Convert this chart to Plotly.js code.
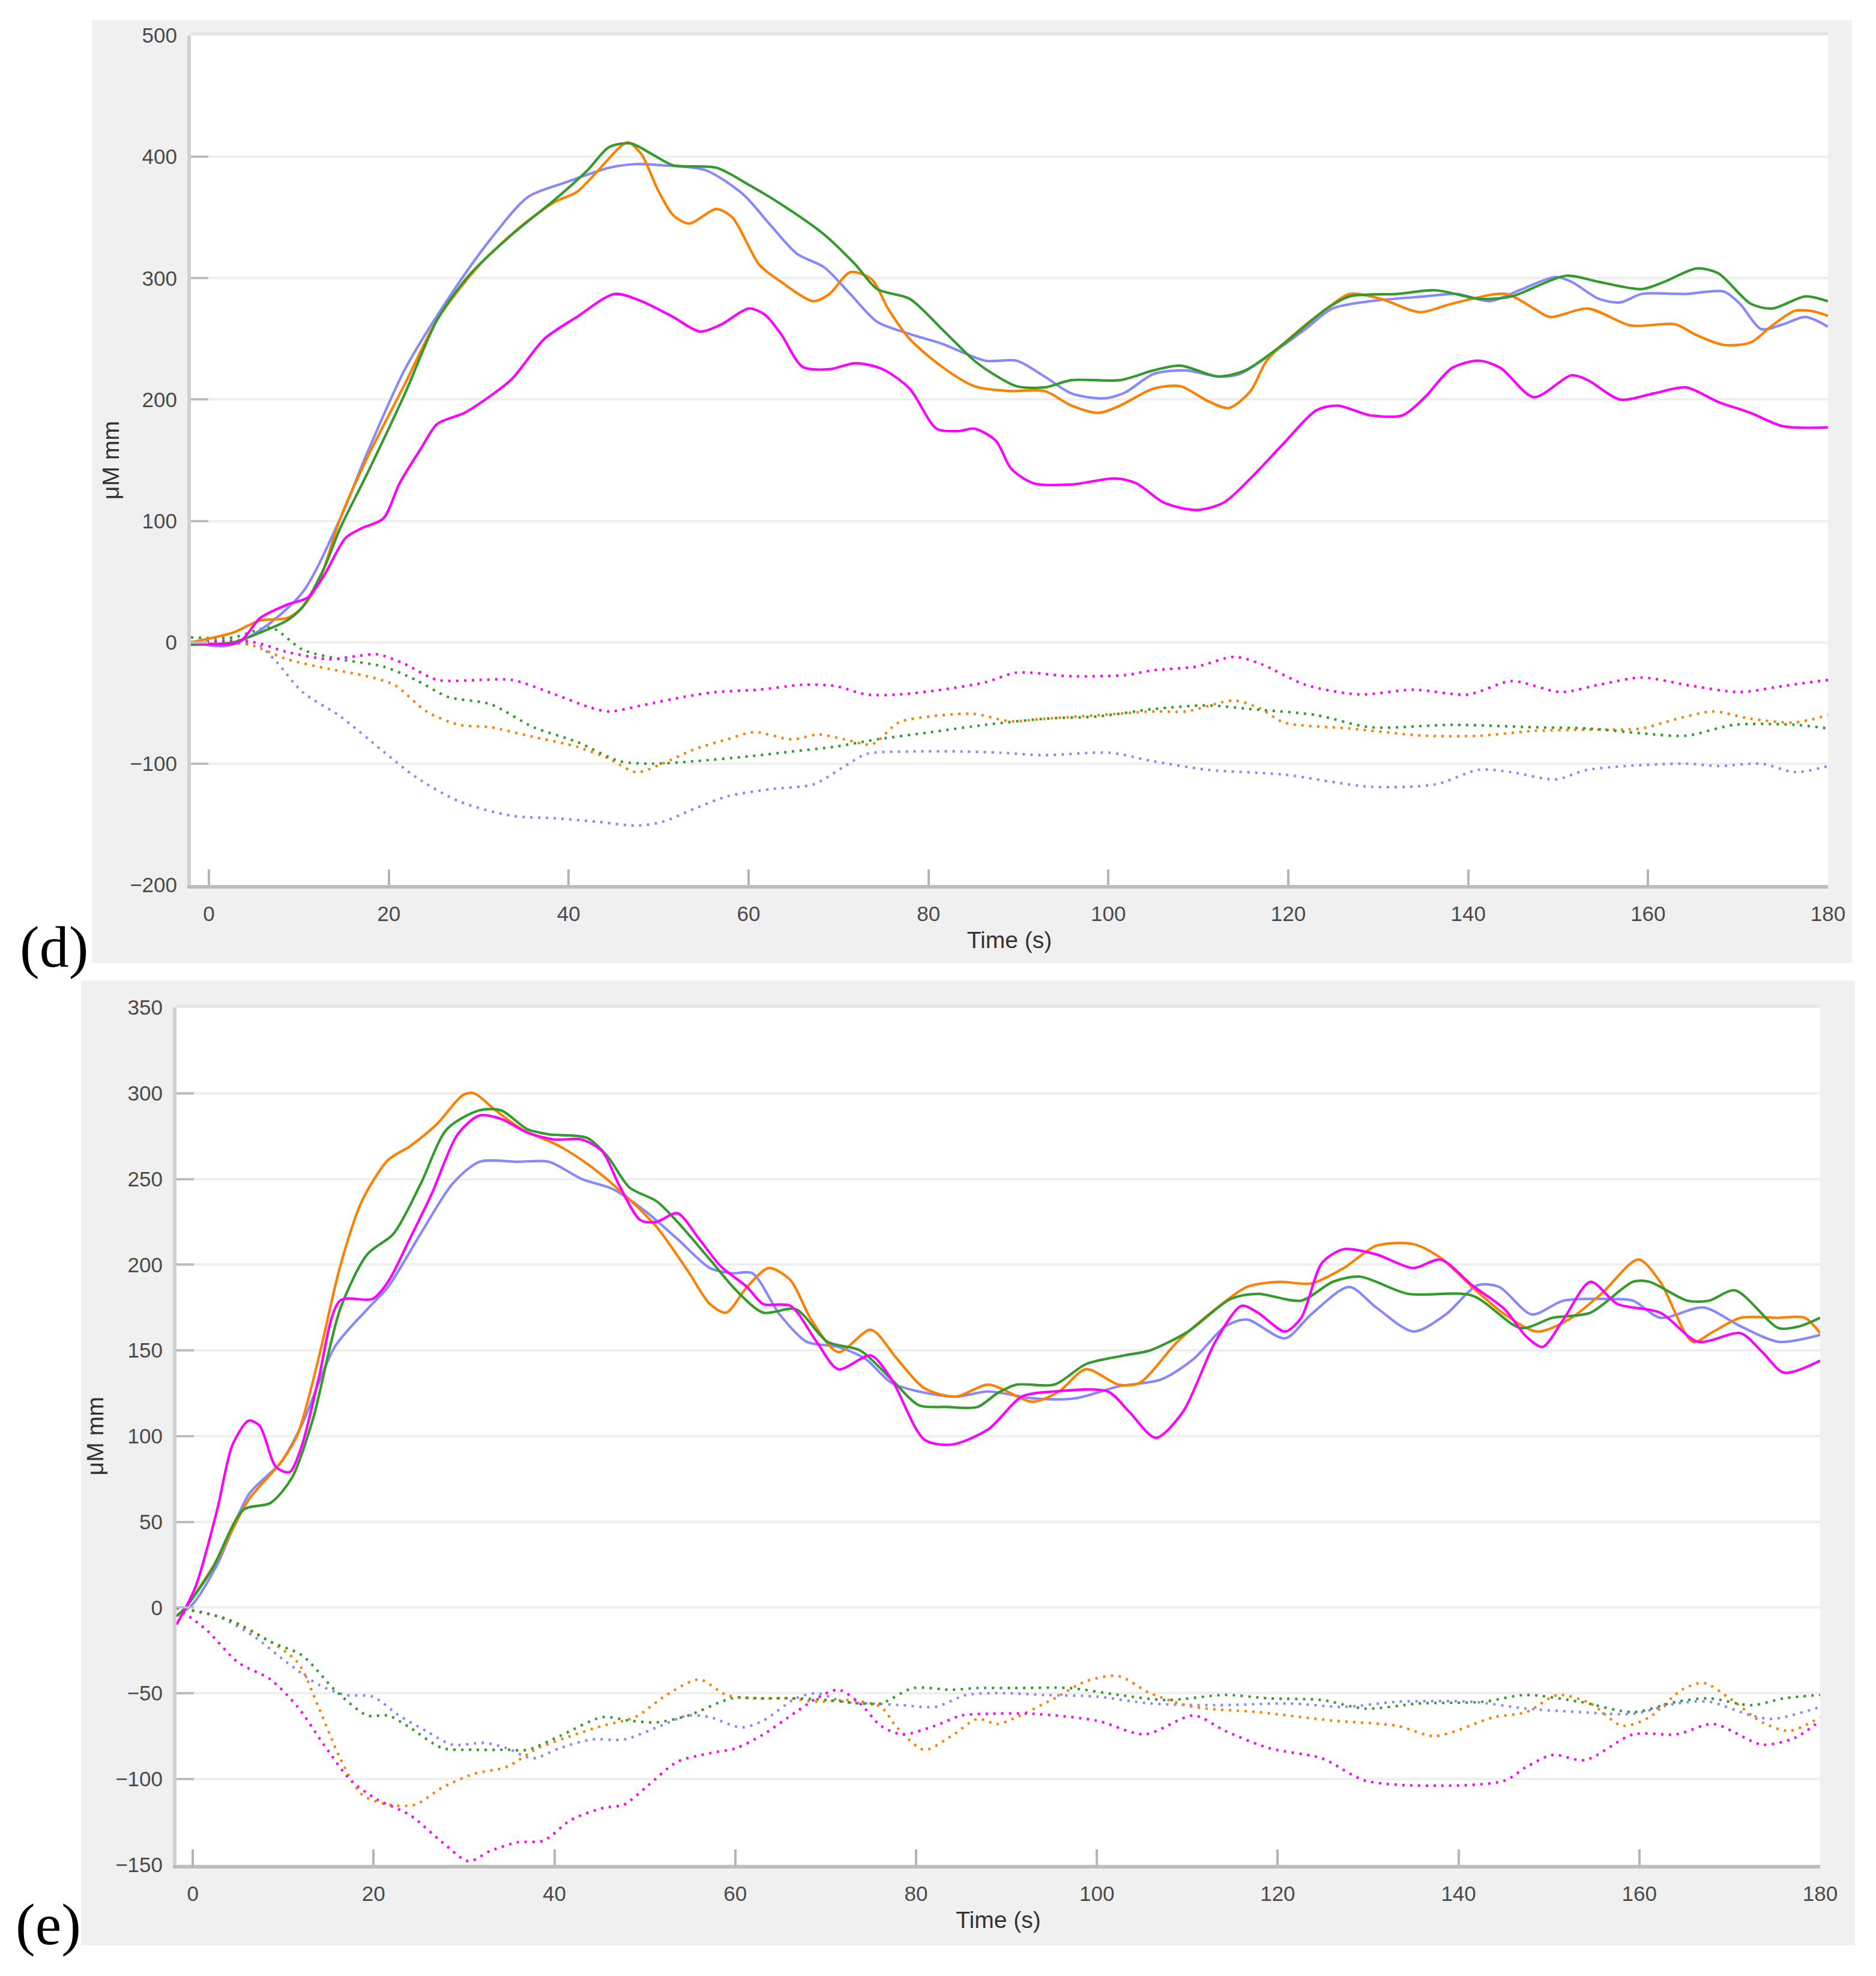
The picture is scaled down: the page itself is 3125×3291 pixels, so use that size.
<!DOCTYPE html>
<html><head><meta charset="utf-8">
<script src="https://cdn.plot.ly/plotly-3.0.1.min.js"></script>
<style>html,body{margin:0;padding:0;background:#fff;}#chart{width:3125px;height:3291px;}</style>
</head><body><div id="chart"></div>
<script>
const W = 3125, H = 3291;

// ---- tick values ----
const xTicks = [0, 20, 40, 60, 80, 100, 120, 140, 160, 180];
const dYTicks = [-200, -100, 0, 100, 200, 300, 400, 500];
const eYTicks = [-150, -100, -50, 0, 50, 100, 150, 200, 250, 300, 350];
const xTitle = 'Time (s)';
const yTitle = 'μM mm';
const panelLabels = ['(d)', '(e)'];

const colors = { blue: '#8787ff', orange: '#ff8000', green: '#339a2b', magenta: '#ff00ff' };

// ---- panel (d): [time, value] ----
const dBlueSolid = [[-2,0],[2,-3],[5.7,10],[10.4,41],[14.6,102],[17.6,156],[21.8,225],[26.6,283],[31.3,332],[35.5,367],[39.7,379],[44.5,391],[47.5,394],[50.4,393],[55.2,389],[59.4,369],[62.4,344],[65.4,320],[68.4,309],[71.3,287],[74.3,264],[77.9,254],[81.5,246],[86.3,232],[89.8,232],[92.9,219],[95.9,205],[99.5,201],[101.9,206],[105,221],[108.6,224],[112.2,219],[114.6,221],[118.2,238],[121.9,258],[124.9,275],[129.1,281],[135.2,285],[138.8,287],[142.4,281],[146,291],[149.7,301],[151.5,297],[154.5,283],[156.9,280],[159.3,287],[164.2,287],[168.4,289],[170.2,279],[172.6,258],[175,262],[177.5,268],[180,260]];
const dGreenSolid = [[-2,-2],[2.7,0],[5.7,8],[8.7,18],[10.4,29],[12.8,61],[14.6,94],[17.6,139],[21.8,205],[25.4,266],[29,303],[33.7,336],[38.5,365],[42.1,389],[44.5,408],[46.9,411],[49.3,402],[51.6,393],[56.4,391],[60,377],[63.6,361],[68.4,336],[71.9,311],[74.3,291],[77.9,283],[81.5,258],[85.1,232],[87,222],[89.8,211],[92.9,210],[95.9,216],[101.3,216],[105,224],[108,228],[112.2,219],[115.2,224],[119.5,246],[124.3,275],[126.8,285],[132.1,287],[136.4,290],[141.2,283],[144.8,285],[150.9,302],[154.5,297],[159.3,291],[161.8,297],[165.4,308],[167.8,304],[171.4,279],[173.8,275],[177.5,285],[180,281]];
const dOrangeSolid = [[-2,0],[2.7,8],[5.7,18],[8.7,20],[10.4,29],[12.2,49],[14.6,102],[17.6,152],[21.8,213],[25.4,266],[30.1,311],[34.9,344],[38.5,363],[40.9,371],[43.3,389],[45.7,408],[46.6,412],[48.1,402],[49.9,373],[51.6,352],[53.4,345],[56.4,357],[58.2,350],[61.2,311],[63.6,297],[67.2,281],[69,287],[71.3,305],[73.7,299],[75.5,275],[77.9,250],[81.5,227],[85.1,211],[89,207],[92.9,207],[95.9,195],[98.9,189],[101.3,195],[105,209],[108,211],[111,199],[113.4,193],[115.8,207],[117.6,232],[120.7,254],[124.3,275],[126.8,287],[130.3,283],[134.6,272],[138.2,279],[144.2,287],[147.3,275],[149.1,268],[153.3,275],[158.1,261],[163,262],[165.4,253],[168.4,245],[171.4,247],[173.8,261],[176.3,273],[178.1,273],[180,269]];
const dMagentaSolid = [[-2,0],[3.3,0],[5.7,20],[8.7,31],[11,37],[12.8,55],[15.2,86],[17,94],[19.4,102],[21.2,131],[23.6,160],[25.4,180],[28.4,189],[31.3,203],[33.7,217],[37.3,250],[40.9,268],[45.1,287],[48.1,281],[51.6,268],[54.6,256],[57,262],[60,275],[61.8,270],[63.6,254],[66,227],[69,225],[71.9,230],[74.9,225],[77.9,209],[80.9,176],[83.3,174],[85.1,176],[87.5,166],[89.2,143],[91.7,131],[95.9,130],[100.7,135],[103.1,131],[106.2,115],[109.8,109],[112.8,115],[115.8,135],[119.5,164],[123.1,191],[125.5,195],[129.1,187],[132.7,187],[135.2,202],[138.2,226],[141.2,232],[143.6,226],[147.3,202],[151.5,220],[153.3,216],[156.9,200],[160.6,205],[164.2,210],[167.8,198],[171.4,189],[175,178],[180,177]];
const dBlueDot = [[-2,0],[5,0],[7.5,-16],[10.4,-41],[14.6,-61],[19.4,-90],[23,-111],[27.8,-131],[33.7,-143],[38.5,-145],[43.3,-148],[47.5,-151],[50.4,-148],[54,-137],[57.6,-127],[62.4,-121],[67.2,-117],[70.7,-102],[73.1,-92],[77.9,-90],[83.9,-90],[88,-91],[92.9,-93],[100.1,-91],[105,-98],[111,-105],[119.5,-109],[129.1,-119],[136.4,-117],[141.2,-105],[144.8,-107],[149.7,-113],[153.3,-105],[164.2,-100],[167.8,-102],[172.6,-100],[176.3,-107],[180,-102]];
const dGreenDot = [[-2,4],[2.7,4],[6.9,12],[10.4,-6],[14.6,-14],[19.4,-20],[23,-31],[26.6,-45],[31.3,-51],[36.1,-70],[40.9,-82],[45.7,-98],[49.3,-100],[54,-98],[60,-94],[64.8,-90],[69.6,-86],[74.3,-80],[80.3,-74],[86.3,-68],[92.9,-63],[98.9,-61],[105,-55],[111,-52],[115.8,-55],[123.1,-60],[129.1,-70],[138.2,-68],[147.3,-70],[153.3,-71],[159.3,-75],[164.2,-77],[169.6,-68],[176.3,-68],[180,-71]];
const dOrangeDot = [[-2,0],[4.5,-2],[8.7,-14],[13.4,-22],[17,-27],[20.6,-35],[24.2,-57],[27.8,-68],[31.3,-70],[36.1,-78],[40.9,-86],[44.5,-96],[47.5,-107],[50.4,-100],[54,-88],[57.6,-80],[60.6,-74],[64.8,-80],[67.8,-76],[70.7,-80],[73.7,-84],[76.7,-66],[80.3,-61],[85.1,-59],[89,-65],[92.9,-63],[98.9,-60],[105,-57],[108.6,-57],[114,-48],[117,-55],[119.5,-66],[126.8,-71],[135.2,-77],[141.2,-77],[147.3,-73],[153.3,-72],[159.3,-71],[161.8,-66],[167.2,-57],[171.4,-63],[176.3,-66],[180,-60]];
const dMagentaDot = [[-2,0],[5,0],[8.7,-8],[13.4,-14],[15.8,-12],[18.8,-10],[21.8,-18],[25.4,-31],[30.1,-31],[33.7,-31],[38.5,-43],[42.1,-53],[44.5,-57],[48.1,-52],[52.8,-45],[56.4,-41],[61.2,-39],[66,-35],[69.6,-36],[73.1,-43],[76.7,-43],[81.5,-39],[86.3,-33],[89.8,-25],[95.9,-28],[101.9,-27],[105,-23],[109.8,-20],[114,-12],[117,-18],[121.9,-35],[127.9,-43],[133.9,-39],[140,-43],[144.8,-32],[150.3,-41],[154.5,-35],[159.3,-29],[164.2,-35],[170.2,-41],[175,-36],[180,-31]];

// ---- panel (e): [time, value] ----
const eBlueSolid = [[-1.8,-5],[0,2],[2.7,25],[6.2,66],[9.8,85],[12.1,107],[15.7,152],[19.3,174],[21.6,187],[25.2,218],[28.7,247],[31.7,260],[35.9,260],[39.4,260],[43,250],[46.5,244],[50.1,231],[53.6,215],[57.2,198],[59.6,195],[61.9,195],[64.9,171],[67.9,155],[71.4,152],[74.4,145],[77.3,131],[80.3,126],[84.4,123],[88,126],[92.9,122],[97.6,122],[102.4,129],[107.1,133],[110.7,145],[114.2,164],[116.6,168],[120.8,157],[123.7,171],[127.9,187],[130.9,175],[135,161],[138.6,171],[142.1,188],[144.5,187],[148.1,171],[151.6,179],[156.4,180],[159.3,179],[162.3,169],[167.1,175],[171.2,164],[175.4,155],[180,159]];
const eGreenSolid = [[-1.8,-5],[-0.8,0],[2.1,22],[5.6,57],[8.6,61],[11,76],[13.3,110],[16.3,174],[19.3,206],[22.2,218],[25.2,247],[28.1,279],[31.7,290],[34.1,290],[37,279],[39.4,276],[43.6,274],[45.9,263],[48.3,245],[51.3,237],[53.6,225],[57.2,203],[60.1,185],[63.1,172],[66.7,174],[70.2,155],[73.8,150],[77.3,133],[80.3,118],[83.3,117],[86.8,117],[89,125],[91.1,130],[95.3,130],[98.8,142],[103,147],[105.9,150],[110.1,161],[114.8,180],[117.8,183],[122.6,179],[126.1,190],[129.1,193],[134.4,183],[141.5,182],[146.9,163],[150.4,169],[154.6,172],[159.3,190],[161.1,190],[165.3,179],[167.7,179],[170.6,185],[175.4,163],[177.7,164],[180,169]];
const eOrangeSolid = [[-1.8,-5],[-0.8,0],[2.7,28],[6.2,63],[9.8,85],[11.6,101],[13.9,145],[16.3,199],[18.7,237],[21.6,261],[24,269],[27,282],[29.9,299],[31.1,300],[33.5,290],[36.4,279],[40.6,269],[44.1,257],[47.7,241],[51.3,222],[54.8,196],[57.2,177],[59,172],[61.3,187],[63.7,198],[66.1,191],[68.4,168],[71.4,149],[75,162],[77.9,145],[80.9,128],[84.4,123],[88,130],[92.9,120],[95.8,126],[98.8,139],[102.4,130],[104.7,131],[108.9,155],[113.1,174],[116.6,187],[120.2,190],[123.7,189],[127.3,198],[130.9,211],[135,212],[138,204],[141.5,187],[145.1,171],[148.7,161],[152.2,168],[155.8,183],[159.9,203],[162.3,190],[165.9,155],[168.2,161],[171.2,169],[175.4,169],[178.3,169],[180,160]];
const eMagentaSolid = [[-1.8,-10],[0.3,12],[2.7,57],[4.4,95],[6.2,109],[7.4,106],[9.2,82],[10.7,79],[12.1,95],[13.9,133],[16.3,179],[19.9,180],[21.6,190],[24,215],[26.4,241],[29.3,276],[31.7,287],[34.1,285],[37,277],[40,273],[43,273],[45.3,266],[47.1,247],[49.5,226],[51.3,225],[53.6,230],[56,215],[58.4,199],[61.3,187],[63.1,177],[66.1,176],[69,155],[71.4,139],[75,147],[77.3,133],[80.9,98],[83.9,95],[88,104],[91.7,123],[95.3,126],[101.2,126],[103.6,114],[106.5,99],[109.5,114],[113.1,155],[116,176],[117.8,172],[120.8,161],[122.6,169],[124.9,201],[127.3,209],[130.9,206],[135,198],[138,203],[141.5,188],[145.1,174],[147.5,158],[149.3,152],[151.6,168],[154.6,190],[157.6,177],[162.3,172],[166.5,155],[171.2,160],[173.6,149],[176,137],[180,144]];
const eBlueDot = [[-1.8,0],[2.7,-5],[6.8,-17],[10.4,-32],[13.9,-45],[16.9,-51],[19.9,-52],[22.8,-63],[25.8,-72],[28.7,-80],[32.3,-79],[34.7,-82],[37.6,-88],[40.6,-82],[44.1,-77],[47.7,-77],[51.3,-70],[54.8,-63],[57.2,-64],[60.7,-70],[63.1,-66],[66.7,-53],[69,-50],[72,-55],[75,-56],[78.5,-57],[82.1,-58],[85.6,-51],[90,-50],[94.1,-51],[100,-52],[105.9,-56],[113.1,-57],[121.4,-56],[127.3,-58],[133.2,-55],[141.5,-55],[147.5,-59],[153.4,-61],[159.3,-62],[164.1,-56],[167.7,-55],[172.4,-63],[174.8,-65],[180,-58]];
const eGreenDot = [[-1.8,0],[3.9,-7],[8.6,-20],[12.1,-28],[15.7,-48],[19.3,-63],[21.6,-63],[24,-70],[27.6,-82],[31.1,-83],[34.7,-83],[37,-83],[40.6,-75],[45.3,-64],[48.3,-66],[51.3,-67],[54.8,-63],[59.6,-53],[63.1,-53],[66.7,-53],[70.2,-54],[73.8,-56],[76.1,-56],[79.7,-47],[83.9,-48],[86.8,-47],[90.8,-47],[97,-47],[102.4,-51],[107.7,-54],[114.2,-51],[119,-53],[124.9,-54],[129.7,-59],[135.6,-56],[142.7,-55],[147.5,-51],[153.4,-55],[159.3,-61],[164.1,-55],[167.7,-53],[172.4,-57],[176,-53],[180,-51]];
const eOrangeDot = [[-1.8,0],[3.9,-7],[8,-18],[11.6,-32],[13.9,-58],[16.3,-88],[18.7,-109],[21.6,-115],[24.6,-115],[27.6,-105],[31.1,-97],[34.7,-93],[38.2,-82],[41.8,-75],[45.3,-69],[48.9,-64],[52.4,-51],[56,-42],[59,-51],[61.9,-53],[66.1,-53],[69,-55],[72.6,-54],[76.1,-58],[77.9,-70],[80.9,-83],[83.9,-75],[86.8,-65],[89,-68],[91.1,-64],[95.3,-53],[98.8,-43],[102.4,-40],[105.9,-50],[110.7,-58],[117.8,-61],[126.1,-66],[133.2,-69],[137.4,-75],[143.9,-64],[147.5,-61],[151,-51],[154.6,-56],[158.1,-69],[161.1,-64],[164.7,-48],[167.1,-44],[170,-53],[173.6,-67],[176.6,-72],[180,-64]];
const eMagentaDot = [[-1.8,0],[1.5,-13],[5,-32],[8.6,-42],[11.6,-58],[14.5,-80],[17.5,-101],[20.4,-112],[24,-121],[27.6,-137],[30.5,-148],[32.9,-142],[35.9,-137],[38.8,-136],[41.8,-124],[45.3,-117],[47.7,-115],[50.1,-105],[53.6,-90],[57.2,-85],[60.1,-82],[63.1,-74],[66.7,-61],[69,-53],[71.4,-48],[73.8,-56],[76.1,-69],[78.5,-74],[82.1,-69],[85,-63],[88,-62],[92.9,-62],[100,-66],[105.3,-74],[110.7,-63],[114.2,-72],[119,-82],[124.9,-88],[129.7,-101],[138,-104],[145.1,-101],[147.5,-93],[150.4,-86],[154,-89],[159.3,-74],[164.1,-74],[168.2,-68],[173.6,-80],[177.2,-76],[180,-66]];

function line(pts, color, dotted, xa, ya) {
  return {
    x: pts.map(p => p[0]), y: pts.map(p => p[1]),
    type: 'scatter', mode: 'lines', xaxis: xa, yaxis: ya, hoverinfo: 'skip',
    line: { color: color, width: 4.2, shape: 'spline', smoothing: 0.8, dash: dotted ? '4px,9px' : 'solid' }
  };
}

const traces = [
  line(dBlueDot, colors.blue, true, 'x', 'y'),
  line(dOrangeDot, colors.orange, true, 'x', 'y'),
  line(dGreenDot, colors.green, true, 'x', 'y'),
  line(dMagentaDot, colors.magenta, true, 'x', 'y'),
  line(dBlueSolid, colors.blue, false, 'x', 'y'),
  line(dOrangeSolid, colors.orange, false, 'x', 'y'),
  line(dGreenSolid, colors.green, false, 'x', 'y'),
  line(dMagentaSolid, colors.magenta, false, 'x', 'y'),
  line(eBlueDot, colors.blue, true, 'x2', 'y2'),
  line(eOrangeDot, colors.orange, true, 'x2', 'y2'),
  line(eGreenDot, colors.green, true, 'x2', 'y2'),
  line(eMagentaDot, colors.magenta, true, 'x2', 'y2'),
  line(eBlueSolid, colors.blue, false, 'x2', 'y2'),
  line(eOrangeSolid, colors.orange, false, 'x2', 'y2'),
  line(eGreenSolid, colors.green, false, 'x2', 'y2'),
  line(eMagentaSolid, colors.magenta, false, 'x2', 'y2')
];

const px = v => v / W;
const py = v => 1 - v / H;
const tickFont = { family: 'Liberation Sans, Arial, sans-serif', size: 35, color: '#4a4a4a' };
const titleFont = { family: 'Liberation Sans, Arial, sans-serif', size: 39, color: '#333333' };

function xAxis(dom, range, anchor) {
  return {
    domain: dom, range: range, anchor: anchor, tickmode: 'array', tickvals: xTicks,
    ticks: 'inside', ticklen: 26, tickwidth: 4, tickcolor: '#b5b5b5',
    showline: true, linecolor: '#bcbcbc', linewidth: 6, showgrid: false, zeroline: false,
    tickfont: tickFont, ticklabelstandoff: 12, fixedrange: true,
    title: { text: xTitle, font: titleFont, standoff: 14 }
  };
}
function yAxis(dom, range, ticks, anchor, standoff) {
  return {
    domain: dom, range: range, anchor: anchor, tickmode: 'array', tickvals: ticks,
    ticks: 'inside', ticklen: 29, tickwidth: 4, tickcolor: '#bdbdbd',
    showline: true, linecolor: '#d0d0d0', linewidth: 6,
    showgrid: true, gridcolor: '#efefef', gridwidth: 4, zeroline: false,
    tickfont: tickFont, ticklabelstandoff: 10, fixedrange: true,
    title: { text: yTitle, font: titleFont, standoff: standoff }
  };
}

const layout = {
  width: W, height: H, margin: { l: 0, r: 0, t: 0, b: 0, pad: 0 },
  paper_bgcolor: '#ffffff', plot_bgcolor: '#ffffff', showlegend: false,
  xaxis: xAxis([px(318), px(3045)], [-2, 180], 'y'),
  yaxis: yAxis([py(1474), py(59)], [-200, 500], dYTicks, 'x', 8),
  xaxis2: xAxis([px(294), px(3032)], [-1.8, 180], 'y2'),
  yaxis2: yAxis([py(3105.5), py(1678)], [-150, 350], eYTicks, 'x2', 10),
  shapes: [
    { type: 'rect', xref: 'paper', yref: 'paper', layer: 'below', x0: px(153), x1: px(3085), y0: py(1604), y1: py(34), fillcolor: '#f0f0f0', line: { width: 0 } },
    { type: 'rect', xref: 'paper', yref: 'paper', layer: 'below', x0: px(318), x1: px(3045), y0: py(1474), y1: py(59), fillcolor: '#ffffff', line: { width: 0 } },
    { type: 'line', xref: 'paper', yref: 'paper', layer: 'below', x0: px(318), x1: px(3045), y0: py(56), y1: py(56), line: { color: '#e4e4e4', width: 5 } },
    { type: 'rect', xref: 'paper', yref: 'paper', layer: 'below', x0: px(135), x1: px(3090), y0: py(3240), y1: py(1633), fillcolor: '#f0f0f0', line: { width: 0 } },
    { type: 'rect', xref: 'paper', yref: 'paper', layer: 'below', x0: px(294), x1: px(3032), y0: py(3105.5), y1: py(1678), fillcolor: '#ffffff', line: { width: 0 } },
    { type: 'line', xref: 'paper', yref: 'paper', layer: 'below', x0: px(294), x1: px(3032), y0: py(1676), y1: py(1676), line: { color: '#e4e4e4', width: 5 } }
  ],
  annotations: [
    { text: panelLabels[0], xref: 'paper', yref: 'paper', x: px(90), y: py(1577), xanchor: 'center', yanchor: 'middle', showarrow: false, font: { family: 'Liberation Serif, Times New Roman, serif', size: 98, color: '#000' } },
    { text: panelLabels[1], xref: 'paper', yref: 'paper', x: px(80), y: py(3205), xanchor: 'center', yanchor: 'middle', showarrow: false, font: { family: 'Liberation Serif, Times New Roman, serif', size: 98, color: '#000' } }
  ]
};

Plotly.newPlot('chart', traces, layout, { staticPlot: true, displayModeBar: false });
</script>
</body></html>
